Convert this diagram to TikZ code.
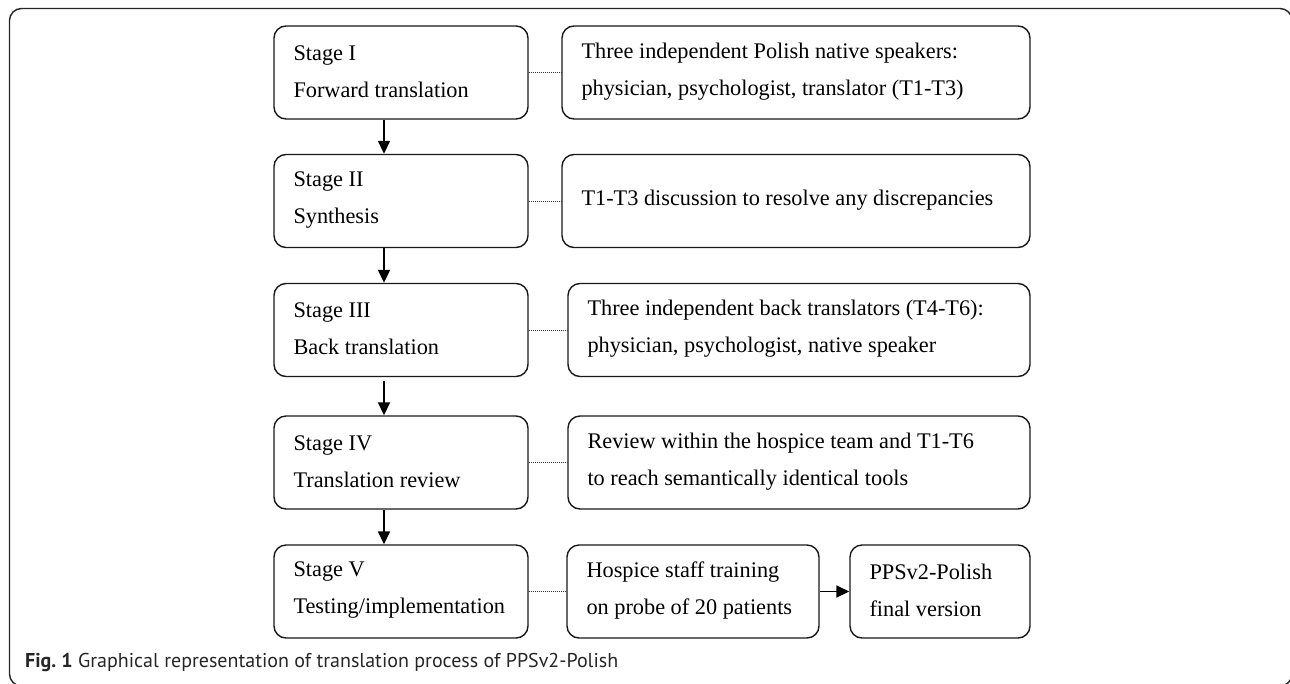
\documentclass[tikz,border=0pt]{standalone}
\usepackage{fontspec}
\setmainfont{Liberation Serif}
\newfontfamily\capfont{PT Sans}
\usetikzlibrary{arrows.meta}
\begin{document}
\begin{tikzpicture}[x=1pt,y=-1pt,
  box/.style={draw=black!90, line width=1.4pt, rounded corners=12pt, inner sep=0pt, minimum height=93pt},
  txt/.style={anchor=west, align=left, inner sep=0pt, font=\fontsize{22.3}{37}\selectfont},
  link/.style={draw=black!80, line width=0.9pt, dash pattern=on 1pt off 1pt},
  arr/.style={draw=black, line width=1.7pt, -{Triangle[length=13pt,width=12pt]}},
  frame/.style={draw=black!85, line width=1.4pt, rounded corners=12pt}
]
\useasboundingbox (0,0) rectangle (1290,683);
\draw[frame] (9.5,8.5) rectangle (1292,686);

% stage boxes
\node[box, minimum width=254pt] (s1) at (401,72.5) {};
\node[box, minimum width=254pt] (s2) at (401,201) {};
\node[box, minimum width=254pt] (s3) at (401,330) {};
\node[box, minimum width=254pt] (s4) at (401,462.5) {};
\node[box, minimum width=254pt] (s5) at (401,591.5) {};
% right boxes
\node[box, minimum width=468pt] (r1) at (796,72.5) {};
\node[box, minimum width=468pt] (r2) at (796,201) {};
\node[box, minimum width=462pt] (r3) at (799,330) {};
\node[box, minimum width=462pt] (r4) at (799,462.5) {};
\node[box, minimum width=252pt] (r5) at (693,591.5) {};
\node[box, minimum width=180pt] (r6) at (940,591.5) {};

% texts
\node[txt] (ts1) at ([xshift=20pt,yshift=1pt]s1.west) {Stage I\\Forward translation};
\node[txt] (ts2) at ([xshift=20pt,yshift=1pt]s2.west) {Stage II\\Synthesis};
\node[txt] (ts3) at ([xshift=20pt,yshift=1pt]s3.west) {Stage III\\Back translation};
\node[txt] (ts4) at ([xshift=20pt,yshift=1pt]s4.west) {Stage IV\\Translation review};
\node[txt] (ts5) at ([xshift=20pt,yshift=1pt]s5.west) {Stage V\\Testing/implementation};
\node[txt] (tr1) at ([xshift=20pt,yshift=1pt]r1.west) {Three independent Polish native speakers:\\physician, psychologist, translator (T1-T3)};
\node[txt] (tr2) at ([xshift=20pt,yshift=1pt]r2.west) {T1-T3 discussion to resolve any discrepancies};
\node[txt] (tr3) at ([xshift=20pt,yshift=1pt]r3.west) {Three independent back translators (T4-T6):\\physician, psychologist, native speaker};
\node[txt] (tr4) at ([xshift=20pt,yshift=1pt]r4.west) {Review within the hospice team and T1-T6\\to reach semantically identical tools};
\node[txt] (tr5) at ([xshift=20pt,yshift=1pt]r5.west) {Hospice staff training\\on probe of 20 patients};
\node[txt] (tr6) at ([xshift=20pt,yshift=1pt]r6.west) {PPSv2-Polish\\final version};

\coordinate (ax) at (384,0);
\draw[arr] (s1.south -| ax) -- (s2.north -| ax);
\draw[arr] (s2.south -| ax) -- (s3.north -| ax);
\draw[arr] ([yshift=-4pt]s3.south -| ax) -- (s4.north -| ax);
\draw[arr] (s4.south -| ax) -- (s5.north -| ax);

\draw[link] (s1) -- (r1);
\draw[link] (s2) -- (r2);
\draw[link] (s3) -- (r3);
\draw[link] (s4) -- (r4);
\draw[link] (s5) -- (r5);
\draw[arr] (r5) -- (r6);

\node[anchor=base west, inner sep=0pt, text=black!85, font=\capfont\fontsize{20}{22}\selectfont] (cap) at (25,667) {\textbf{Fig.\ 1} Graphical representation of translation process of PPSv2-Polish};
\end{tikzpicture}
\end{document}
